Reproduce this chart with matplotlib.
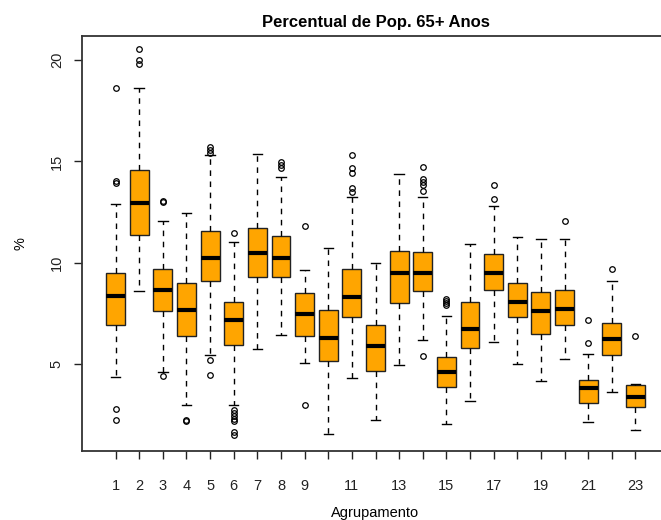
import matplotlib
matplotlib.use("Agg")
import matplotlib.pyplot as plt

plt.rcParams['font.family'] = ['Liberation Sans', 'DejaVu Sans']

# box statistics, one value per group (1..23)
groups = list(range(1, 24))
whislo = [4.36, 8.57, 4.58, 2.94, 5.44, 2.93, 5.72, 6.42, 5.03, 1.50, 4.31, 2.20,
          4.93, 6.15, 2.00, 3.13, 6.07, 5.00, 4.13, 5.22, 2.12, 3.61, 1.71]
q1 = [6.92, 11.36, 7.58, 6.35, 9.07, 5.90, 9.30, 9.30, 6.35, 5.14, 7.29, 4.63,
      8.00, 8.57, 3.86, 5.77, 8.64, 7.29, 6.48, 6.92, 3.05, 5.42, 2.85]
med = [8.36, 12.95, 8.64, 7.64, 10.21, 7.14, 10.45, 10.21, 7.43, 6.28, 8.29, 5.85,
       9.50, 9.50, 4.58, 6.72, 9.50, 8.07, 7.58, 7.71, 3.78, 6.22, 3.36]
q3 = [9.50, 14.58, 9.70, 9.00, 11.57, 8.07, 11.70, 11.29, 8.51, 7.64, 9.70, 6.92,
      10.56, 10.50, 5.35, 8.07, 10.43, 9.00, 8.56, 8.64, 4.21, 7.00, 3.93]
whishi = [12.87, 18.62, 12.05, 12.45, 15.30, 11.00, 15.35, 14.21, 9.65, 10.71, 13.26, 10.00,
          14.36, 13.23, 7.34, 10.93, 12.79, 11.24, 11.16, 11.16, 5.50, 9.07, 4.00]
fliers = [
    [18.65, 14.05, 13.95, 2.75, 2.20],
    [20.55, 20.00, 19.80],
    [13.02, 12.97, 4.40],
    [2.22, 2.17],
    [15.70, 15.55, 15.40, 5.20, 4.45],
    [11.45, 2.72, 2.55, 2.40, 2.28, 2.17, 1.60, 1.45],
    [],
    [14.95, 14.82, 14.65],
    [11.82, 2.97],
    [],
    [15.32, 14.65, 14.45, 13.70, 13.50],
    [],
    [],
    [14.70, 14.12, 13.97, 13.82, 13.52, 5.38],
    [8.20, 8.10, 8.00, 7.92],
    [],
    [13.83, 13.16],
    [],
    [],
    [12.05],
    [7.18, 6.03],
    [9.67],
    [6.38],
]
xticklabels = ['1', '2', '3', '4', '5', '6', '7', '8', '9', '', '11', '', '13', '',
               '15', '', '17', '', '19', '', '21', '', '23']

stats = []
for i in range(len(groups)):
    stats.append(dict(whislo=whislo[i], q1=q1[i], med=med[i], q3=q3[i],
                      whishi=whishi[i], fliers=fliers[i]))

fig = plt.figure(figsize=(6.61, 5.2), dpi=100)
# right edge of the frame lies just past the picture, as in the reference
ax = fig.add_axes([82 / 661, (520 - 451) / 520, (669 - 82) / 661, (451 - 36) / 520])

ax.bxp(stats, positions=groups, widths=0.8, capwidths=0.4, patch_artist=True,
       boxprops=dict(facecolor='#FFA500', edgecolor='#222222', linewidth=1.0),
       medianprops=dict(color='black', linewidth=3, solid_capstyle='butt'),
       whiskerprops=dict(color='black', linewidth=1.0, linestyle=(0, (4, 4))),
       capprops=dict(color='black', linewidth=1.0),
       flierprops=dict(marker='o', markerfacecolor='none', markeredgecolor='black',
                       markersize=4, markeredgewidth=0.9))

ax.set_xlim(-0.42, 24.42)
ax.set_ylim(0.68, 21.2)
ax.set_xticks(groups)
ax.set_xticklabels(xticklabels)
ax.set_yticks([5, 10, 15, 20])
ax.set_yticklabels(['5', '10', '15', '20'], rotation=90, va='center')

ax.tick_params(axis='both', direction='out', length=6, width=1, labelsize=10.5, colors='#222222')
ax.tick_params(axis='x', pad=14)
ax.tick_params(axis='y', pad=7)
for s in ax.spines.values():
    s.set_linewidth(1.3)
    s.set_color('#333333')

ax.set_title('Percentual de Pop. 65+ Anos', fontsize=12, fontweight='bold', pad=6.5)
ax.set_xlabel('Agrupamento', fontsize=10.5)
ax.set_ylabel('%', fontsize=10.5)
ax.xaxis.set_label_coords(0.5, -0.1325)
ax.yaxis.set_label_coords(-0.093, 0.5)

fig.savefig('out.png', dpi=100)
